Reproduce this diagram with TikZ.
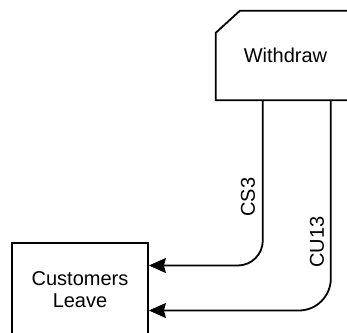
\documentclass[tikz,border=0pt]{standalone}
\usepackage{fontspec}
\setmainfont{Liberation Sans}
\usetikzlibrary{arrows.meta,positioning,calc}

\begin{document}
\begin{tikzpicture}[x=1pt,y=-1pt,>={Stealth[length=17pt,width=15pt,inset=2pt]},
  every node/.style={font=\fontsize{20}{22}\selectfont},
  proc/.style={minimum width=139pt,minimum height=89pt,inner sep=0pt,align=center},
  flow/.style={->,line width=1.8pt},
  lbl/.style={rotate=90,inner sep=0pt}]
\useasboundingbox (0,0) rectangle (347,332);
% Withdraw, chamfered corner, cut off at the right
\node[proc] (wd) at (285.5,55.5) {Withdraw};
\draw[line width=1.8pt] ($(wd.south east)+(5,0)$) -- (wd.south west) -- ($(wd.north west)+(0,22)$)
  -- ($(wd.north west)+(24,0)$) -- ($(wd.north east)+(5,0)$);
\node[proc, draw, line width=1.8pt, minimum width=136pt, minimum height=93pt] (cl) at (80,289.5) {Customers\\Leave};
% flows
\draw[flow, rounded corners=25pt] ([xshift=47pt]wd.south west) |- ([yshift=24pt]cl.east);
\draw[flow, rounded corners=32pt] ([xshift=115pt]wd.south west) |- ([yshift=-21pt]cl.east);
\node[lbl] (cs3) at (248,197) {CS3};
\node[lbl] (cu13) at (317,242) {CU13};
\end{tikzpicture}
\end{document}
